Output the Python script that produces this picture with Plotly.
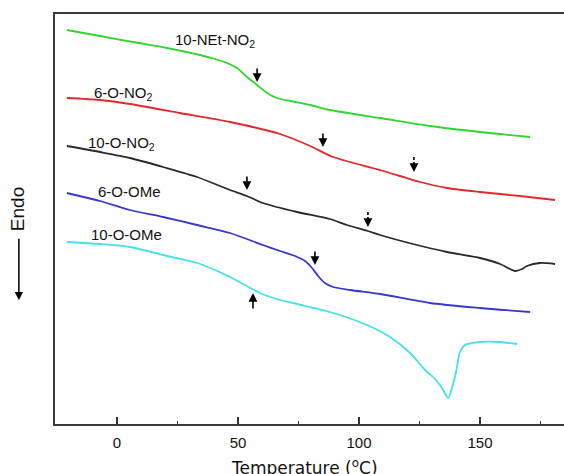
import plotly.graph_objects as go

# DSC heating traces (temperature in °C, heat flow in arbitrary units, offset per sample)
t_net_no2 = [-20.7, -7.0, 6.6, 20.7, 34.3, 40.5, 45.5, 49.6, 53.7, 57.9, 62.0, 66.1, 71.5, 79.8, 88.0, 108.7, 129.3, 150.0, 170.7]
h_net_no2 = [3.94, 3.88, 3.82, 3.76, 3.69, 3.65, 3.61, 3.56, 3.47, 3.39, 3.31, 3.26, 3.23, 3.19, 3.14, 3.06, 2.98, 2.92, 2.87]

t_6o_no2 = [-20.7, -7.0, 5.4, 26.0, 46.7, 67.4, 79.8, 89.3, 108.7, 125.2, 136.4, 150.0, 166.5, 181.0]
h_6o_no2 = [3.26, 3.24, 3.20, 3.11, 3.02, 2.90, 2.78, 2.67, 2.54, 2.42, 2.36, 2.32, 2.28, 2.24]

t_10o_no2 = [-20.7, -7.0, 5.4, 19.0, 33.1, 46.7, 53.7, 60.3, 74.4, 88.0, 95.0, 103.7, 108.7, 122.3,
             136.4, 150.0, 158.3, 162.4, 164.5, 167.4, 169.4, 174.8, 181.0]
h_10o_no2 = [2.78, 2.72, 2.66, 2.57, 2.47, 2.34, 2.28, 2.21, 2.12, 2.05, 1.99, 1.93, 1.89, 1.80,
             1.72, 1.66, 1.60, 1.55, 1.53, 1.55, 1.58, 1.61, 1.60]

t_6o_ome = [-20.7, -7.0, 5.4, 19.0, 33.1, 46.7, 60.3, 67.4, 73.6, 77.7, 80.6, 83.1, 85.9, 89.3, 96.3, 108.7, 129.3, 150.0, 170.7]
h_6o_ome = [2.31, 2.23, 2.14, 2.07, 1.99, 1.91, 1.79, 1.73, 1.68, 1.63, 1.56, 1.48, 1.41, 1.37, 1.34, 1.30, 1.21, 1.16, 1.12]

t_10o_ome = [-20.7, -7.0, 5.4, 19.0, 33.1, 40.5, 46.7, 52.9, 59.1, 67.4, 74.4, 88.0, 103.3, 112.8, 121.1, 127.3,
             131.4, 134.3, 136.8, 138.4, 140.1, 141.7, 143.8, 150.0, 158.3, 165.3]
h_10o_ome = [1.82, 1.80, 1.77, 1.69, 1.61, 1.54, 1.47, 1.39, 1.31, 1.24, 1.20, 1.12, 0.99, 0.87, 0.71, 0.54,
             0.45, 0.36, 0.26, 0.36, 0.52, 0.72, 0.79, 0.82, 0.82, 0.80]

sample_names = ["10-NEt-NO<sub>2</sub>", "6-O-NO<sub>2</sub>", "10-O-NO<sub>2</sub>", "6-O-OMe", "10-O-OMe"]
line_colors = ["#2fd62f", "#e5262a", "#2a2a2a", "#3737c8", "#3fe3e8"]

# transition markers: (temperature, heat flow at arrow head, direction, dashed)
tg_marks = [
    (57.9, 3.42, "down", False),
    (85.1, 2.77, "down", False),
    (122.7, 2.52, "down", True),
    (53.7, 2.34, "down", False),
    (103.7, 1.97, "down", True),
    (81.8, 1.59, "down", False),
    (56.2, 1.31, "up", False),
]

x_ticks = [0, 50, 100, 150]

FONT = "Liberation Sans, Arial, sans-serif"

fig = go.Figure()
series = [(t_net_no2, h_net_no2), (t_6o_no2, h_6o_no2), (t_10o_no2, h_10o_no2),
          (t_6o_ome, h_6o_ome), (t_10o_ome, h_10o_ome)]
for (tx, hy), name, col in zip(series, sample_names, line_colors):
    fig.add_trace(go.Scatter(x=tx, y=hy, mode="lines", name=name,
                             line=dict(color=col, width=1.8, shape="spline", smoothing=0.7),
                             hoverinfo="skip", showlegend=False))

# sample labels placed beside each trace
label_pos = [(23.0, 3.84), (-10.3, 3.31), (-12.8, 2.81), (-8.7, 2.33), (-11.6, 1.90)]
for (lx, ly), name in zip(label_pos, sample_names):
    fig.add_annotation(x=lx, y=ly, xref="x", yref="y", text=name, showarrow=False,
                       xanchor="left", yanchor="middle",
                       font=dict(family=FONT, size=15, color="#111"))

for tx, hy, direction, dashed in tg_marks:
    shaft = 15 if direction == "down" else -17
    if dashed:
        fig.add_annotation(x=tx, y=hy, xref="x", yref="y", ax=0, ay=-6, text="",
                           showarrow=True, arrowhead=2, arrowsize=1.1, arrowwidth=1.6,
                           arrowcolor="#000", standoff=0)
        fig.add_shape(type="line", xref="x", yref="y", x0=tx, x1=tx,
                      y0=hy + shaft / 100.0, y1=hy + 0.06,
                      line=dict(color="#000", width=1.6, dash="3px,2px"))
    else:
        fig.add_annotation(x=tx, y=hy, xref="x", yref="y", ax=0, ay=-shaft, text="",
                           showarrow=True, arrowhead=2, arrowsize=1.1, arrowwidth=1.6,
                           arrowcolor="#000", standoff=0)

# "Endo" direction indicator on the left
fig.add_annotation(x=-0.0747, y=0.524, xref="paper", yref="paper", text="Endo", textangle=-90,
                   xanchor="center", yanchor="middle", showarrow=False,
                   font=dict(family=FONT, size=19, color="#111"))
fig.add_annotation(x=-0.071, y=0.302, xref="paper", yref="paper", ax=0, ay=-63, text="",
                   showarrow=True, arrowhead=2, arrowsize=1.1, arrowwidth=1.5,
                   arrowcolor="#000", standoff=0)

# x-axis title
fig.add_annotation(x=0.491, y=-0.102, xref="paper", yref="paper", yshift=-1,
                   xanchor="center", yanchor="middle",
                   text="Temperature (<sup>o</sup>C)", showarrow=False,
                   font=dict(family="DejaVu Sans, sans-serif", size=17, color="#111"))

fig.update_layout(
    width=564, height=474,
    margin=dict(l=55, r=0, t=14, b=50),
    paper_bgcolor="white", plot_bgcolor="white",
    font=dict(family=FONT, color="#111"),
    xaxis=dict(range=[-25.6, 184.7], tickvals=x_ticks, ticks="inside", ticklen=7, tickwidth=1.5,
               tickcolor="#333", showgrid=False, zeroline=False, showline=True, linecolor="#3a3a3a",
               linewidth=1.7, mirror=True, tickfont=dict(family=FONT, size=15, color="#111"),
               ticklabelstandoff=4,
               minor=dict(tickvals=[25, 75, 125, 175], ticks="inside", ticklen=3, tickwidth=1.3,
                          tickcolor="#333")),
    yaxis=dict(range=[0, 4.10], showticklabels=False, ticks="", showgrid=False, zeroline=False,
               showline=True, linecolor="#3a3a3a", linewidth=1.7),
)

fig.write_html("out.html")
